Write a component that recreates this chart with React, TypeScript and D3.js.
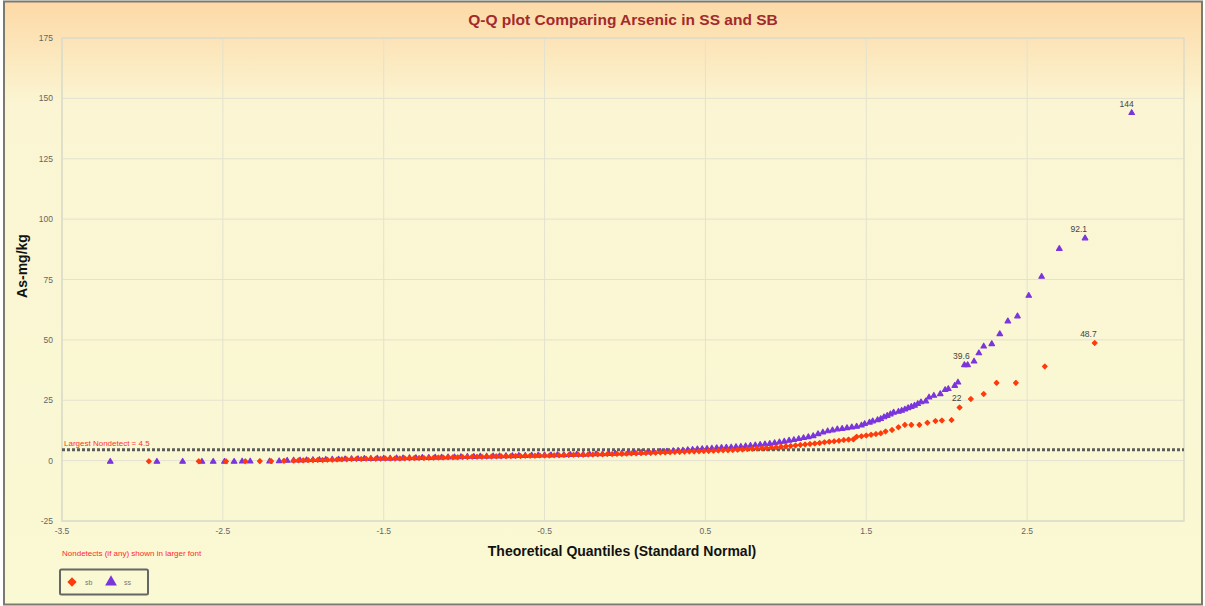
import React from 'react';
import * as d3 from 'd3';

// Q-Q data: [theoretical quantile, As mg/kg]
const sbPoints: [number, number][] = [
  [-2.96, -0.3], [-2.65, -0.3], [-2.48, -0.3], [-2.36, -0.3], [-2.27, -0.2], [-2.2, -0.2], [-2.12, -0.1], [-2.06, 0],
  [-2.03, 0.1], [-2.0, 0.1], [-1.97, 0.2], [-1.94, 0.2], [-1.91, 0.3], [-1.88, 0.3], [-1.85, 0.4], [-1.82, 0.4],
  [-1.79, 0.5], [-1.76, 0.6], [-1.73, 0.6], [-1.7, 0.7], [-1.67, 0.7], [-1.64, 0.7], [-1.61, 0.8], [-1.58, 0.8],
  [-1.55, 0.8], [-1.52, 0.8], [-1.49, 0.9], [-1.46, 0.9], [-1.43, 0.9], [-1.4, 0.9], [-1.37, 1.0], [-1.34, 1.0],
  [-1.31, 1.1], [-1.28, 1.1], [-1.25, 1.1], [-1.22, 1.2], [-1.19, 1.2], [-1.16, 1.3], [-1.13, 1.3], [-1.1, 1.4],
  [-1.07, 1.4], [-1.04, 1.4], [-1.01, 1.5], [-0.98, 1.5], [-0.95, 1.6], [-0.92, 1.6], [-0.89, 1.6], [-0.86, 1.7],
  [-0.83, 1.7], [-0.8, 1.8], [-0.77, 1.8], [-0.74, 1.8], [-0.71, 1.9], [-0.68, 1.9], [-0.65, 1.9], [-0.62, 2.0],
  [-0.59, 2.0], [-0.56, 2.0], [-0.53, 2.1], [-0.5, 2.1], [-0.47, 2.1], [-0.44, 2.2], [-0.41, 2.2], [-0.38, 2.3],
  [-0.35, 2.3], [-0.32, 2.4], [-0.29, 2.4], [-0.26, 2.4], [-0.23, 2.5], [-0.2, 2.5], [-0.17, 2.6], [-0.14, 2.6],
  [-0.11, 2.7], [-0.08, 2.7], [-0.05, 2.8], [-0.02, 2.8], [0.01, 2.9], [0.04, 3.0], [0.07, 3.0], [0.1, 3.1],
  [0.13, 3.2], [0.16, 3.2], [0.19, 3.3], [0.22, 3.4], [0.25, 3.4], [0.28, 3.5], [0.31, 3.6], [0.34, 3.6],
  [0.37, 3.7], [0.4, 3.8], [0.43, 3.8], [0.46, 3.9], [0.49, 4.0], [0.52, 4.0], [0.55, 4.1], [0.58, 4.2],
  [0.61, 4.3], [0.64, 4.3], [0.67, 4.4], [0.7, 4.5], [0.73, 4.6], [0.76, 4.8], [0.79, 4.9], [0.82, 5.0],
  [0.85, 5.1], [0.88, 5.2], [0.91, 5.4], [0.94, 5.5], [0.97, 5.7], [1.0, 5.9], [1.03, 6.1], [1.06, 6.3],
  [1.09, 6.5], [1.12, 6.7], [1.15, 6.9], [1.18, 7.1], [1.21, 7.3], [1.24, 7.6], [1.27, 7.8], [1.3, 8.0],
  [1.33, 8.2], [1.36, 8.5], [1.39, 8.7], [1.42, 8.8], [1.44, 9.9], [1.47, 10.1], [1.5, 10.4], [1.53, 10.7],
  [1.56, 11.0], [1.59, 11.3], [1.62, 12.1], [1.66, 12.7], [1.7, 13.8], [1.74, 14.8], [1.78, 14.8], [1.83, 14.8],
  [1.88, 15.7], [1.93, 16.4], [1.97, 16.6], [2.03, 16.8], [2.08, 22], [2.15, 25.5], [2.23, 27.6], [2.31, 32.2],
  [2.43, 32.2], [2.61, 39], [2.92, 48.7],
];

const ssPoints: [number, number][] = [
  [-3.2, -0.4], [-2.91, -0.4], [-2.75, -0.4], [-2.63, -0.4], [-2.56, -0.4], [-2.49, -0.4], [-2.43, -0.4],
  [-2.38, -0.3], [-2.33, -0.3], [-2.21, -0.3], [-2.15, -0.2],
  [-2.1, 0], [-2.06, 0.1], [-2.02, 0.1], [-1.98, 0.2], [-1.94, 0.3], [-1.9, 0.3], [-1.86, 0.4], [-1.82, 0.5],
  [-1.78, 0.5], [-1.74, 0.6], [-1.7, 0.7], [-1.66, 0.7], [-1.62, 0.8], [-1.58, 0.8], [-1.54, 0.9], [-1.5, 0.9],
  [-1.46, 0.9], [-1.42, 1.0], [-1.38, 1.0], [-1.34, 1.1], [-1.3, 1.1], [-1.26, 1.2], [-1.22, 1.2], [-1.18, 1.3],
  [-1.14, 1.3], [-1.1, 1.4], [-1.06, 1.4], [-1.02, 1.5], [-0.98, 1.6], [-0.94, 1.6], [-0.9, 1.7], [-0.86, 1.7],
  [-0.82, 1.8], [-0.78, 1.8], [-0.74, 1.9], [-0.7, 1.9], [-0.66, 2.0], [-0.62, 2.0], [-0.58, 2.1], [-0.54, 2.1],
  [-0.5, 2.2], [-0.46, 2.2], [-0.42, 2.3], [-0.38, 2.3], [-0.34, 2.4], [-0.3, 2.5], [-0.26, 2.5], [-0.22, 2.6],
  [-0.18, 2.7], [-0.14, 2.7], [-0.1, 2.8], [-0.06, 2.9], [-0.02, 3.0], [0.02, 3.1], [0.06, 3.2], [0.1, 3.3],
  [0.14, 3.4], [0.18, 3.5], [0.22, 3.7], [0.26, 3.8], [0.3, 4.0], [0.33, 4.1], [0.36, 4.2], [0.39, 4.4],
  [0.42, 4.5], [0.45, 4.7], [0.48, 4.8], [0.51, 4.9], [0.54, 5.0], [0.57, 5.2], [0.6, 5.3], [0.63, 5.4],
  [0.66, 5.5], [0.69, 5.7], [0.72, 5.8], [0.75, 6.0], [0.78, 6.2], [0.81, 6.4], [0.84, 6.6], [0.87, 6.8],
  [0.9, 7.0], [0.93, 7.3], [0.96, 7.6], [0.99, 7.9], [1.02, 8.3], [1.05, 8.6], [1.08, 9.0], [1.11, 9.4],
  [1.14, 9.8], [1.17, 10.2], [1.2, 11.0], [1.23, 11.7], [1.26, 12.2], [1.29, 12.6], [1.32, 13.0], [1.35, 13.2],
  [1.38, 13.5], [1.41, 13.8], [1.44, 14.1], [1.47, 14.6], [1.49, 15.2], [1.52, 15.8], [1.54, 16.3], [1.57, 16.8],
  [1.59, 17.3], [1.61, 18.0], [1.63, 18.6], [1.65, 19.2], [1.67, 19.9], [1.7, 20.3], [1.72, 20.7], [1.74, 21.2],
  [1.76, 21.8], [1.78, 22.3], [1.8, 22.8], [1.82, 23.5], [1.84, 24.2], [1.87, 24.6], [1.89, 26.2], [1.92, 26.9],
  [1.96, 27.6], [1.99, 29.3], [2.01, 29.7], [2.05, 31.0], [2.07, 32.4], [2.11, 39.6], [2.13, 39.6], [2.17, 41.1],
  [2.2, 44.5], [2.23, 47.3], [2.28, 48.3], [2.33, 52.4], [2.38, 57.7], [2.44, 59.8], [2.51, 68.3], [2.59, 76.2],
  [2.7, 87.7], [2.86, 92.1], [3.15, 144],
];

const sbLabels = [48.7, 22];
const ssLabels = [144, 92.1, 39.6];
const xTicks = [-3.5, -2.5, -1.5, -0.5, 0.5, 1.5, 2.5];
const yTicks = [-25, 0, 25, 50, 75, 100, 125, 150, 175];
const largestNondetect = 4.5;

const W = 1205;
const H = 606;
const plot = { left: 62, right: 1184, top: 38, bottom: 521 };
const font = 'Liberation Sans, Arial, sans-serif';
const sbColor = '#ff3a0c';
const ssColor = '#7b35dc';

const x = d3.scaleLinear().domain([-3.5, 3.5]).range([62, 1188]);
const y = d3.scaleLinear().domain([-25, 175]).range([plot.bottom, plot.top]);

const diamond = d3.symbol().type(d3.symbolDiamond2).size(14)();
const triangle = d3.symbol().type(d3.symbolTriangle).size(13)();
const legendDiamond = d3.symbol().type(d3.symbolDiamond2).size(55)();
const legendTriangle = d3.symbol().type(d3.symbolTriangle).size(60)();

const pointLabels = (pts: [number, number][], vals: number[]) =>
  vals.map(v => {
    const p = [...pts].reverse().find(d => d[1] === v)!;
    return (
      <text key={v} x={x(p[0]) + 2} y={y(p[1]) - 6} textAnchor="end" fontSize={8.5} fill="#444" fontFamily={font}>
        {String(v)}
      </text>
    );
  });

export default function App() {
  return (
    <div style={{ position: 'fixed', left: 0, top: 0 }}>
      <svg width={W} height={H} style={{ display: 'block' }}>
        <defs>
          <linearGradient id="bg" x1="0" y1="0" x2="0" y2="1">
            <stop offset="0%" stopColor="#fdd9a6" />
            <stop offset="17%" stopColor="#fbf5d3" />
            <stop offset="100%" stopColor="#f9f9d3" />
          </linearGradient>
        </defs>
        <rect x={0} y={0} width={W} height={H} fill="#fff" />
        <rect x={4} y={1.5} width={1198} height={603} fill="url(#bg)" stroke="#7a7a70" strokeWidth={2} />

        <text x={623} y={25} textAnchor="middle" fontSize={15.5} fontWeight="bold" fill="#a32a2c" fontFamily={font}>
          Q-Q  plot Comparing Arsenic in SS and SB
        </text>

        {/* grid */}
        {yTicks.map(t => (
          <line key={'gy' + t} x1={plot.left} x2={plot.right} y1={y(t)} y2={y(t)} stroke="#e3e2cf" strokeWidth={1} />
        ))}
        {xTicks.map(t => (
          <line key={'gx' + t} x1={x(t)} x2={x(t)} y1={plot.top} y2={plot.bottom} stroke="#e3e2cf" strokeWidth={1} />
        ))}
        <rect x={plot.left} y={plot.top} width={plot.right - plot.left} height={plot.bottom - plot.top}
          fill="none" stroke="#dcdbc8" strokeWidth={1.5} />

        {yTicks.map(t => (
          <text key={'ty' + t} x={53} y={y(t) + 3} textAnchor="end" fontSize={8.5} fill="#666" fontFamily={font}>
            {t}
          </text>
        ))}
        {xTicks.map(t => (
          <text key={'tx' + t} x={x(t)} y={534} textAnchor="middle" fontSize={8.5} fill="#666" fontFamily={font}>
            {t}
          </text>
        ))}

        <text x={622} y={556} textAnchor="middle" fontSize={14} fontWeight="bold" fill="#111" fontFamily={font}>
          Theoretical Quantiles (Standard Normal)
        </text>
        <text transform={`translate(27,266) rotate(-90)`} textAnchor="middle" fontSize={14} fontWeight="bold"
          fill="#111" fontFamily={font}>
          As-mg/kg
        </text>

        {/* largest nondetect line */}
        <line x1={plot.left} x2={plot.right} y1={y(largestNondetect)} y2={y(largestNondetect)}
          stroke="#5c5c58" strokeWidth={3} strokeDasharray="3 2" />
        <text x={64} y={y(largestNondetect) - 4} fontSize={8} fill="#ff3030" fontFamily={font}>
          Largest Nondetect = {largestNondetect}
        </text>

        {/* points */}
        {ssPoints.map((d, i) => (
          <path key={'ss' + i} d={triangle} transform={`translate(${x(d[0])},${y(d[1])})`}
            fill={ssColor} stroke={ssColor} strokeWidth={1.2} strokeLinejoin="round" />
        ))}
        {sbPoints.map((d, i) => (
          <path key={'sb' + i} d={diamond} transform={`translate(${x(d[0])},${y(d[1])})`}
            fill={sbColor} stroke={sbColor} strokeWidth={1.2} strokeLinejoin="round" />
        ))}
        {pointLabels(ssPoints, ssLabels)}
        {pointLabels(sbPoints, sbLabels)}

        <text x={62} y={556} fontSize={8} fill="#ff2a2a" fontFamily={font}>
          Nondetects (if any) shown in larger font
        </text>

        {/* legend */}
        <rect x={60} y={569.5} width={88} height={25} fill="none" stroke="#666" strokeWidth={2} rx={1.5} />
        <path d={legendDiamond} transform="translate(72,582)" fill={sbColor} />
        <text x={85} y={585} fontSize={7} fill="#777" fontFamily={font}>sb</text>
        <path d={legendTriangle} transform="translate(111,582)" fill={ssColor} />
        <text x={124} y={585} fontSize={7} fill="#777" fontFamily={font}>ss</text>
      </svg>
    </div>
  );
}
